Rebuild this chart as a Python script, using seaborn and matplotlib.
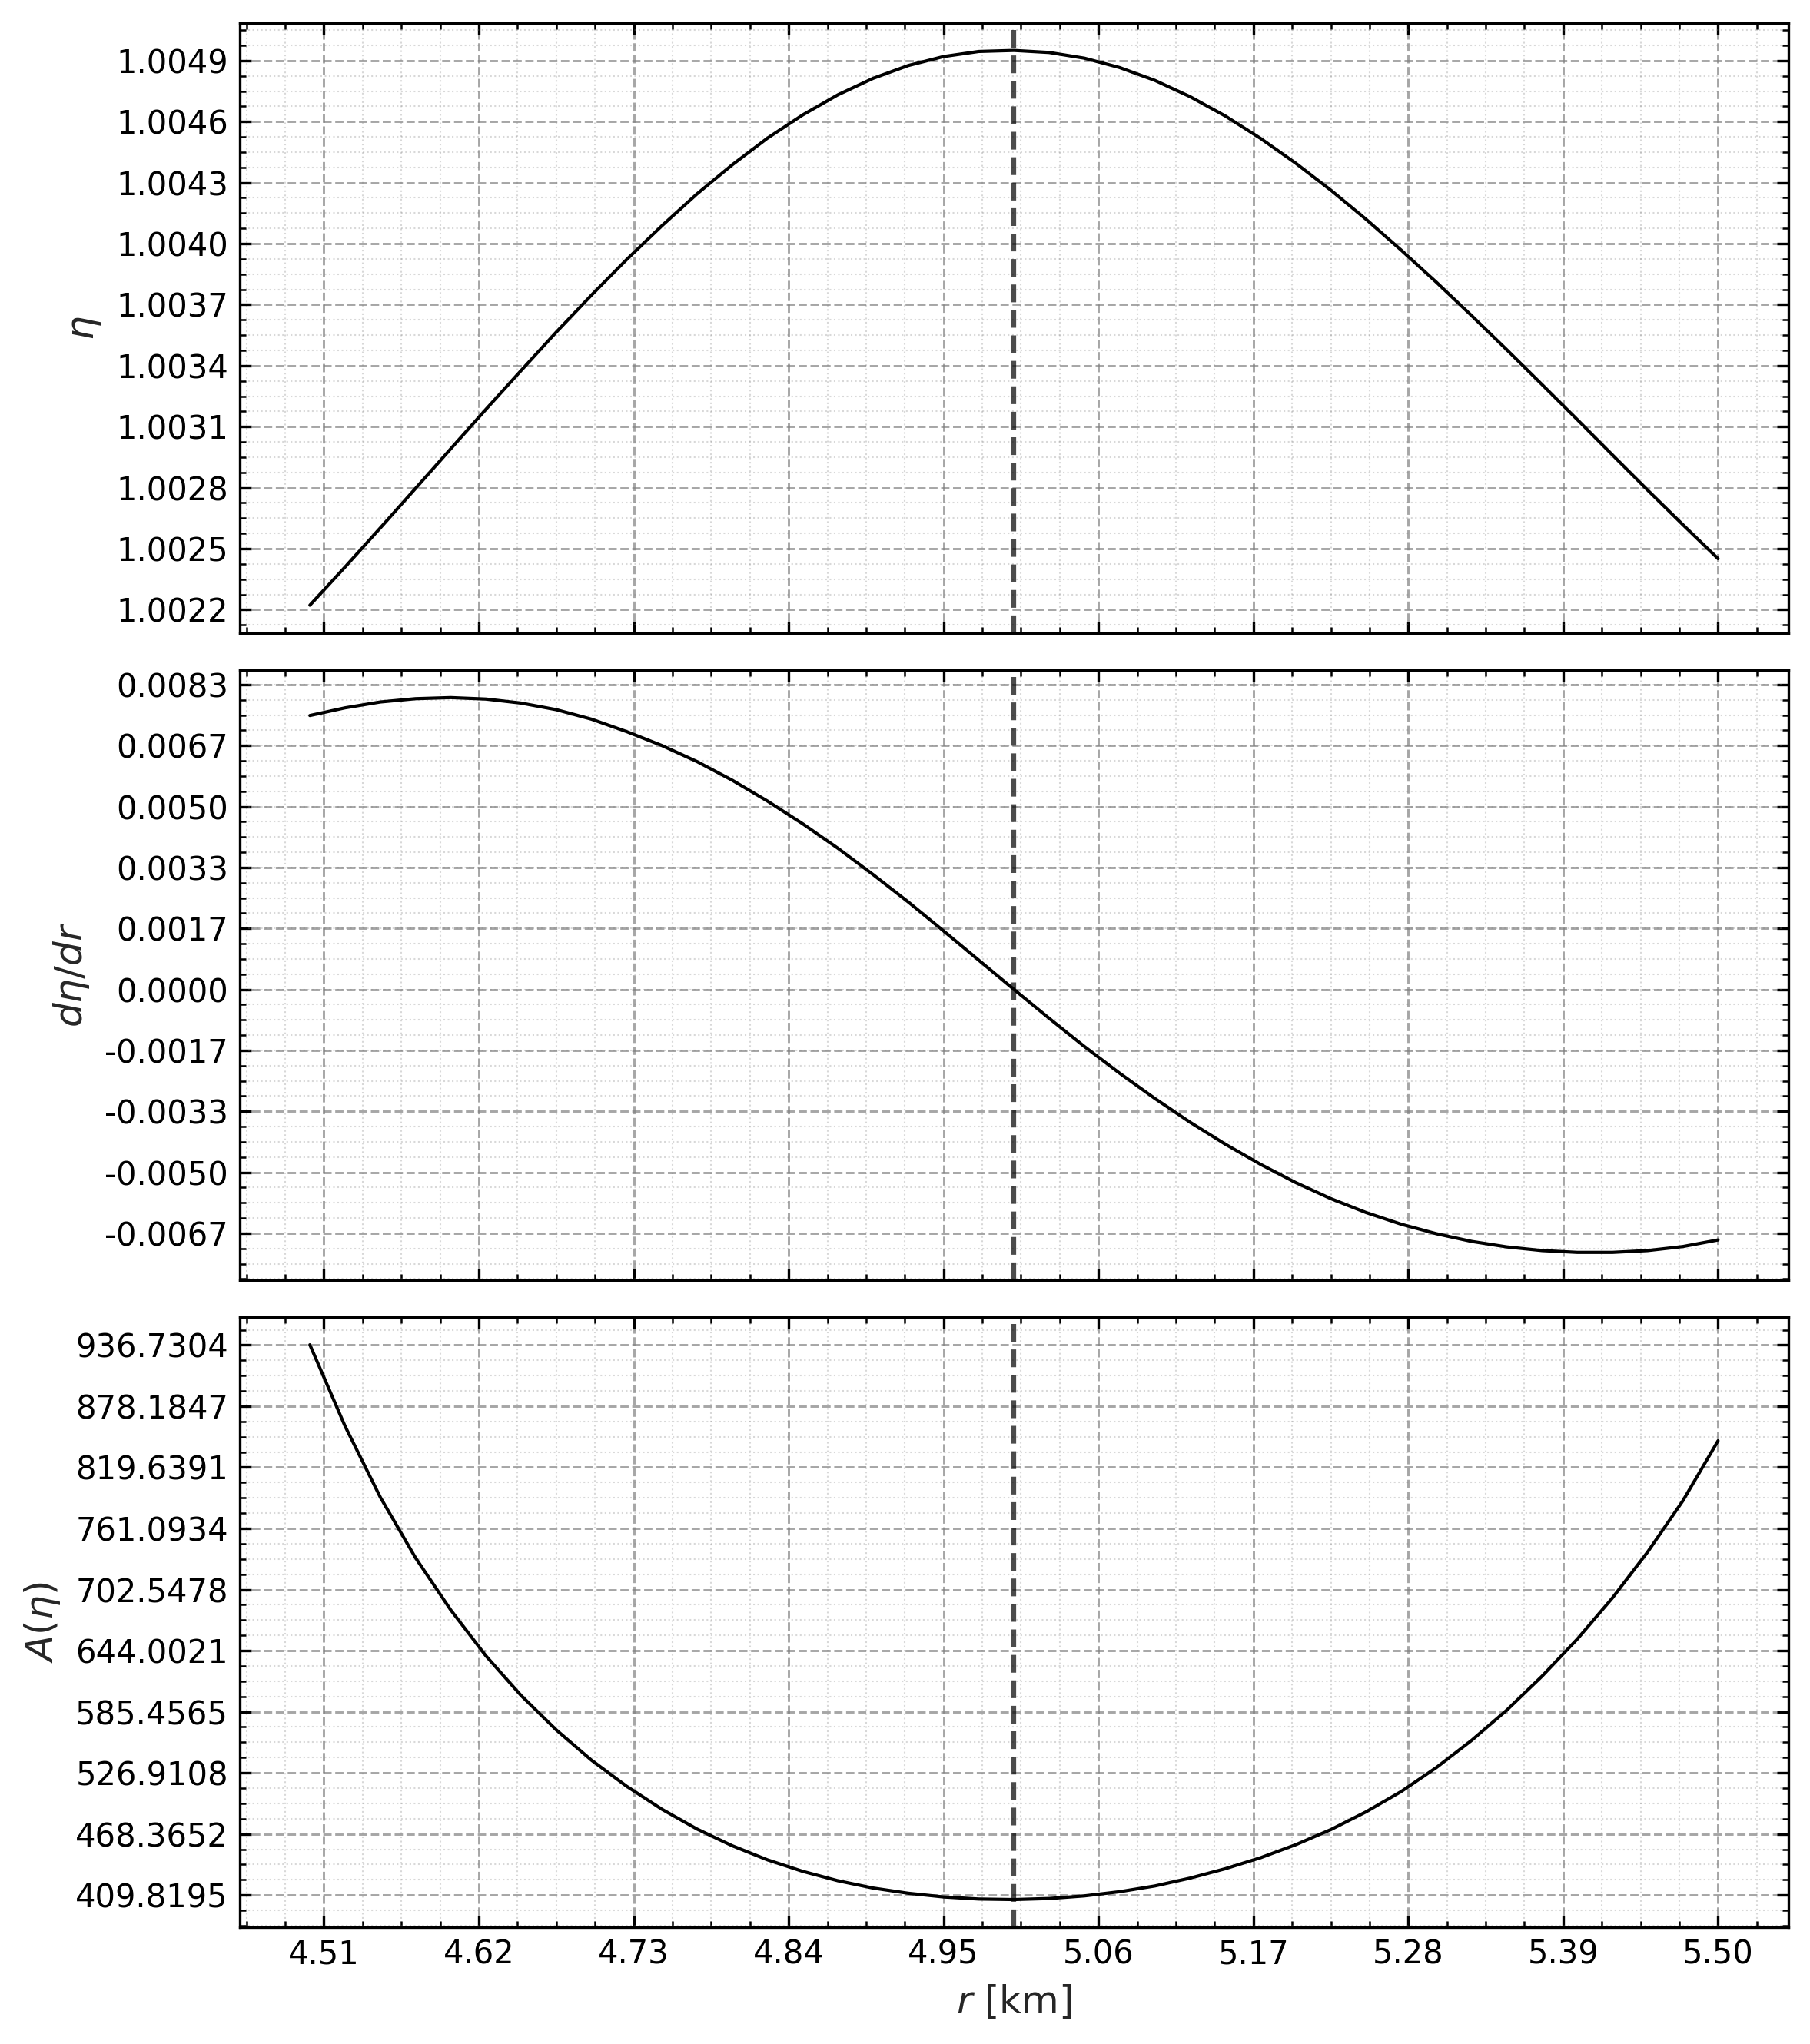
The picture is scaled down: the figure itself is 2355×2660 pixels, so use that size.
import numpy as np
import pandas as pd
import matplotlib
matplotlib.use("Agg")
import matplotlib.pyplot as plt
import seaborn as sns
from matplotlib.ticker import AutoMinorLocator, FormatStrFormatter

# values
R_KM = [4.500, 4.525, 4.550, 4.575, 4.600, 4.625, 4.650, 4.675, 4.700, 4.725,
        4.750, 4.775, 4.800, 4.825, 4.850, 4.875, 4.900, 4.925, 4.950, 4.975,
        5.000, 5.025, 5.050, 5.075, 5.100, 5.125, 5.150, 5.175, 5.200, 5.225,
        5.250, 5.275, 5.300, 5.325, 5.350, 5.375, 5.400, 5.425, 5.450, 5.475,
        5.500]

ETA = [1.002222, 1.002410, 1.002602, 1.002796, 1.002991, 1.003185, 1.003376, 1.003565, 1.003747, 1.003922,
       1.004088, 1.004245, 1.004388, 1.004519, 1.004633, 1.004732, 1.004813, 1.004876, 1.004920, 1.004945,
       1.004950, 1.004940, 1.004912, 1.004866, 1.004803, 1.004723, 1.004628, 1.004518, 1.004396, 1.004263,
       1.004120, 1.003968, 1.003810, 1.003646, 1.003478, 1.003307, 1.003135, 1.002961, 1.002788, 1.002618,
       1.002451]

DETA_DR = [0.00749, 0.00770, 0.00786, 0.00795, 0.00798, 0.00794, 0.00783, 0.00765, 0.00739, 0.00705,
           0.00667, 0.00623, 0.00572, 0.00515, 0.00453, 0.00386, 0.00314, 0.00239, 0.00160, 0.00080,
           0.00000, -0.00079, -0.00156, -0.00229, -0.00298, -0.00363, -0.00423, -0.00478, -0.00528, -0.00572,
           -0.00610, -0.00642, -0.00668, -0.00689, -0.00704, -0.00714, -0.00719, -0.00719, -0.00714, -0.00703,
           -0.00685]

A_ETA = [937, 859, 791, 733, 683, 639, 601, 568, 539, 514,
         492, 473, 457, 443.5, 432.5, 423.5, 416.5, 411.5, 408, 406,
         405.5, 406.5, 409, 413, 418.5, 426, 435, 445.5, 458, 472.5,
         489.5, 509, 532, 558, 587, 619.5, 655, 694.5, 738.5, 787.5,
         845]

R_PEAK = 5.0

R_TICKS = [4.51, 4.62, 4.73, 4.84, 4.95, 5.06, 5.17, 5.28, 5.39, 5.50]
ETA_TICKS = [1.0022, 1.0025, 1.0028, 1.0031, 1.0034, 1.0037, 1.0040, 1.0043, 1.0046, 1.0049]
DETA_TICKS = [-0.006667, -0.005, -0.003333, -0.001667, 0.0,
              0.001667, 0.003333, 0.005, 0.006667, 0.008333]
A_TICKS = [409.8195, 468.3652, 526.9108, 585.4565, 644.0021,
           702.5478, 761.0934, 819.6391, 878.1847, 936.7304]

df = pd.DataFrame({"r": R_KM, "eta": ETA, "deta": DETA_DR, "A": A_ETA})

sns.set_style("white")
plt.rcParams["font.family"] = ["DejaVu Sans"]
plt.rcParams["mathtext.fontset"] = "dejavusans"

fig, axes = plt.subplots(3, 1, figsize=(2355 / 300, 2660 / 300), dpi=300, sharex=True)
fig.subplots_adjust(left=0.1323, right=0.9881, top=0.9889, bottom=0.0571, hspace=0.0605)

panels = [("eta", r"$\eta$", ETA_TICKS),
          ("deta", r"$d\eta/dr$", DETA_TICKS),
          ("A", r"$A(\eta)$", A_TICKS)]

for ax, (col, label, yticks) in zip(axes, panels):
    sns.lineplot(data=df, x="r", y=col, ax=ax, color="k", linewidth=1.0)
    ax.axvline(R_PEAK, color="k", alpha=0.7, linestyle="--", linewidth=1.5)
    ax.set_yticks(yticks)
    ax.yaxis.set_major_formatter(FormatStrFormatter("%.4f"))
    ax.xaxis.set_minor_locator(AutoMinorLocator(4))
    ax.yaxis.set_minor_locator(AutoMinorLocator(4))
    ax.tick_params(which="both", direction="in", top=True, right=True,
                   bottom=True, left=True, colors="k", labelsize=10)
    ax.grid(which="major", linestyle="--", linewidth=0.7, color="gray", alpha=0.7)
    ax.grid(which="minor", linestyle=":", linewidth=0.5, color="gray", alpha=0.3)
    ax.set_ylabel(label, fontsize=12)
    ax.set_xlabel("")
    for s in ax.spines.values():
        s.set_visible(True)
        s.set_color("k")
        s.set_linewidth(0.8)

axes[-1].set_xticks(R_TICKS)
axes[-1].xaxis.set_major_formatter(FormatStrFormatter("%.2f"))
axes[-1].set_xlabel(r"$r$ [km]", fontsize=12)

fig.savefig("out.png", dpi=300)
